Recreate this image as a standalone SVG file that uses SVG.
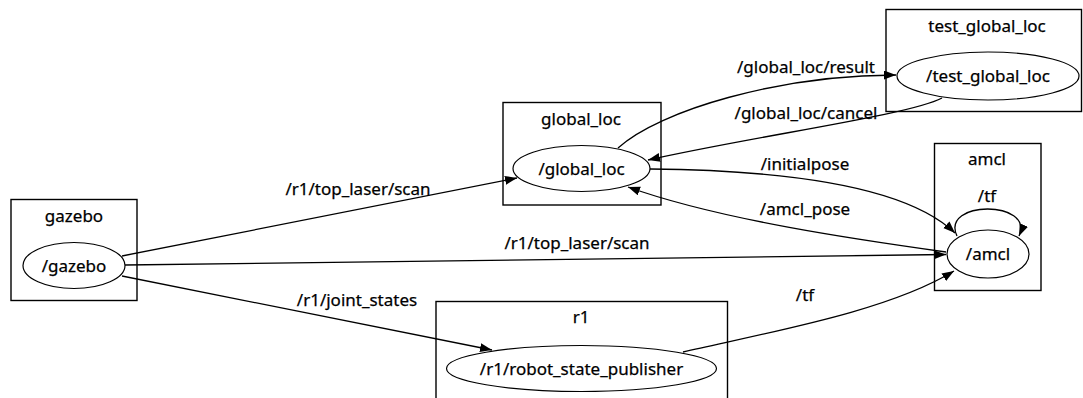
<svg xmlns="http://www.w3.org/2000/svg" width="1083" height="398" viewBox="0 0 1083 398">
  <style>
    .cluster { fill: none; stroke: #000; stroke-width: 1.4; }
    .node { fill: #fff; stroke: #000; stroke-width: 1.2; }
    .edge { fill: none; stroke: #000; stroke-width: 1.3; marker-end: url(#arrow); }
    text { font-family: "Noto Sans", "Open Sans", sans-serif; font-size: 17px; fill: #000; text-anchor: middle; stroke: #000; stroke-width: 0.25; }
  </style>
  <defs>
    <marker id="arrow" markerUnits="userSpaceOnUse" markerWidth="14" markerHeight="10" refX="12" refY="4.5" orient="auto">
      <path d="M0,0 L12,4.5 L0,9 z" fill="#000"/>
    </marker>
  </defs>
  <rect width="1083" height="398" fill="#fff"/>

  <!-- namespace clusters with their nodes -->
  <g id="gazebo">
    <rect class="cluster" x="11" y="199.5" width="126" height="101"/>
    <text x="74" y="222">gazebo</text>
    <ellipse class="node" cx="74" cy="265.5" rx="51" ry="23"/>
    <text x="74" y="271.5">/gazebo</text>
  </g>

  <g id="global_loc">
    <rect class="cluster" x="503" y="102.5" width="158" height="102.5"/>
    <text x="581" y="125">global_loc</text>
    <ellipse class="node" cx="581.5" cy="168.5" rx="68.5" ry="23"/>
    <text x="581.5" y="174.5">/global_loc</text>
  </g>

  <g id="test_global_loc">
    <rect class="cluster" x="886" y="9.5" width="195.5" height="102"/>
    <text x="987" y="32">test_global_loc</text>
    <ellipse class="node" cx="988" cy="76" rx="91" ry="24"/>
    <text x="988" y="82">/test_global_loc</text>
  </g>

  <g id="amcl">
    <rect class="cluster" x="934.5" y="143.5" width="106.5" height="147"/>
    <text x="987" y="165">amcl</text>
    <ellipse class="node" cx="988" cy="254" rx="41" ry="24"/>
    <text x="988" y="260">/amcl</text>
  </g>

  <g id="r1">
    <rect class="cluster" x="436" y="301.5" width="291.5" height="110"/>
    <text x="581" y="323">r1</text>
    <ellipse class="node" cx="581.5" cy="368.5" rx="135" ry="23"/>
    <text x="581.5" y="374.5">/r1/robot_state_publisher</text>
  </g>

  <!-- topic connections -->
  <g id="connectors">
    <path class="edge" d="M122,256 L517,178"/>
    <text x="358" y="195">/r1/top_laser/scan</text>

    <path class="edge" d="M125,265 L946,254.5"/>
    <text x="577" y="249">/r1/top_laser/scan</text>

    <path class="edge" d="M122,276 L492,350"/>
    <text x="357" y="306">/r1/joint_states</text>

    <path class="edge" d="M683,352 C780,330 890,310 954,271"/>
    <text x="805" y="301">/tf</text>

    <path class="edge" d="M618,148 C660,110 780,75 896,75"/>
    <text x="806" y="73">/global_loc/result</text>

    <path class="edge" d="M942,98 C910,115 760,135 648,160"/>
    <text x="806" y="119">/global_loc/cancel</text>

    <path class="edge" d="M650,169 C760,170 900,180 955,233"/>
    <text x="805" y="170">/initialpose</text>

    <path class="edge" d="M946,252 C860,240 720,220 628,187"/>
    <text x="805" y="215">/amcl_pose</text>

    <path class="edge" d="M957,236 C940,200 1035,200 1019,236"/>
    <text x="987" y="202">/tf</text>
  </g>
</svg>
